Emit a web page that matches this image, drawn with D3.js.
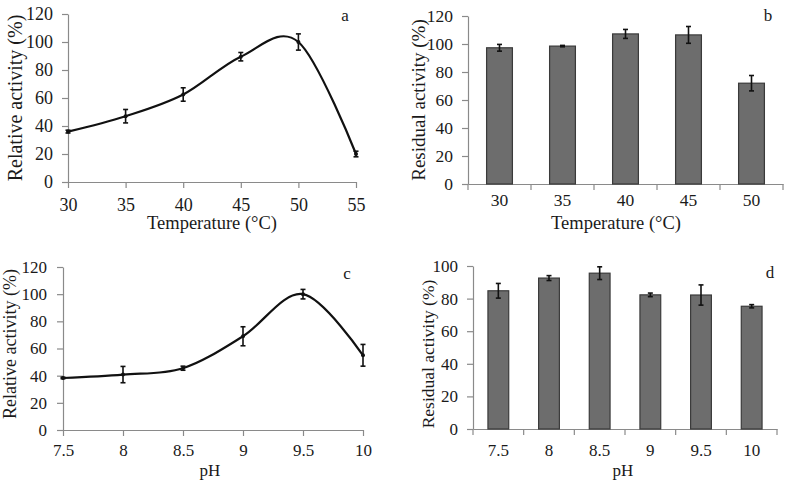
<!DOCTYPE html>
<html><head><meta charset="utf-8">
<script src="https://cdn.jsdelivr.net/npm/d3@7"></script>
<style>body{margin:0;background:#fff}svg{display:block}</style>
</head><body>
<svg id="c" width="787" height="480"></svg>
<script>
// Panel a: temperature vs relative activity
const tempA = [30, 35, 40, 45, 50, 55];
const relActA = [36, 47, 62.5, 89.5, 100, 20];
const relErrA = [1, 4.8, 4.8, 3, 5.8, 2];
// Panel b: temperature stability
const tempB = ["30", "35", "40", "45", "50"];
const resActB = [97.3, 98.5, 107.2, 106.5, 72];
const resErrB = [2.4, 0.5, 3.2, 6, 5.5];
// Panel c: pH vs relative activity
const phC = [7.5, 8, 8.5, 9, 9.5, 10];
const relActC = [38.3, 40.8, 45.5, 69, 100, 55];
const relErrC = [0.5, 6, 1.5, 7, 3.5, 8];
// Panel d: pH stability
const phD = ["7.5", "8", "8.5", "9", "9.5", "10"];
const resActD = [84.8, 92.6, 95.6, 82.3, 82.2, 75.3];
const resErrD = [4.5, 1.5, 3.9, 1.1, 6.2, 1];
const yTicks120 = [0, 20, 40, 60, 80, 100, 120];
const yTicks100 = [0, 20, 40, 60, 80, 100];

const svg = d3.select("#c");
const FONT = "'Liberation Serif','Times New Roman',serif";
const AX = "#8a8a8a", TXT = "#1a1a1a";

function styleAxis(g, fs) {
  g.attr("font-family", null).attr("font-size", null);
  g.select(".domain").attr("stroke", AX).attr("stroke-width", 1.2);
  g.selectAll(".tick line").attr("stroke", AX).attr("stroke-width", 1.2);
  g.selectAll(".tick text").attr("fill", TXT).style("font-family", FONT).style("font-size", fs + "px");
}

function yAxis(g, y, ticks, xPos, fs, pad) {
  const a = g.append("g").attr("transform", `translate(${xPos},0)`)
    .call(d3.axisLeft(y).tickValues(ticks).tickSize(6).tickPadding(pad).tickSizeOuter(0));
  styleAxis(a, fs);
}

function titles(g, o) {
  g.append("text").attr("x", o.xtX).attr("y", o.xtY).attr("text-anchor", "middle")
    .style("font-family", FONT).style("font-size", o.xtFs + "px").attr("fill", TXT).text(o.xt);
  g.append("text").attr("transform", `translate(${o.ytX},${o.ytY}) rotate(-90)`)
    .attr("dy", "0.35em").attr("text-anchor", "middle")
    .style("font-family", FONT).style("font-size", o.ytFs + "px").attr("fill", TXT).text(o.yt);
  g.append("text").attr("x", o.lx).attr("y", o.ly).attr("dy", "0.35em").attr("text-anchor", "middle")
    .style("font-family", FONT).style("font-size", "17px").attr("fill", TXT).text(o.letter);
}

function errorBars(g, xs, ys, errs, y, cap) {
  xs.forEach((x, i) => {
    const t = y(ys[i] + errs[i]), b = y(ys[i] - errs[i]);
    g.append("line").attr("x1", x).attr("x2", x).attr("y1", t).attr("y2", b).attr("stroke", "#111").attr("stroke-width", 1.6);
    g.append("line").attr("x1", x - cap).attr("x2", x + cap).attr("y1", t).attr("y2", t).attr("stroke", "#111").attr("stroke-width", 1.6);
    g.append("line").attr("x1", x - cap).attr("x2", x + cap).attr("y1", b).attr("y2", b).attr("stroke", "#111").attr("stroke-width", 1.6);
  });
}

function linePanel(o) {
  const g = svg.append("g");
  const x = d3.scaleLinear().domain([o.xs[0], o.xs[o.xs.length - 1]]).range([o.x0, o.x1]);
  const y = d3.scaleLinear().domain([0, 120]).range([o.y0, o.yTop]);
  const xa = g.append("g").attr("transform", `translate(0,${o.y0})`)
    .call(d3.axisBottom(x).tickValues(o.xs).tickFormat(d => String(d)).tickSize(6).tickPadding(o.xPad).tickSizeOuter(0));
  styleAxis(xa, o.tfs);
  yAxis(g, y, yTicks120, o.x0, o.tfs, o.yPad);
  const pts = o.xs.map((d, i) => [x(d), y(o.vals[i])]);
  g.append("path").attr("d", d3.line().curve(d3.curveCatmullRom.alpha(0))(pts))
    .attr("fill", "none").attr("stroke", "#111").attr("stroke-width", 2.2);
  g.selectAll("circle.m").data(pts).join("circle").attr("cx", d => d[0]).attr("cy", d => d[1]).attr("r", 2).attr("fill", "#111");
  errorBars(g, pts.map(p => p[0]), o.vals, o.errs, y, 2.5);
  titles(g, o);
}

function barPanel(o) {
  const g = svg.append("g");
  const x = d3.scaleBand().domain(o.cats).range([o.x0, o.x1]).paddingInner(0.59).paddingOuter(0.295);
  const y = d3.scaleLinear().domain([0, o.ymax]).range([o.y0, o.yTop]);
  const xa = g.append("g").attr("transform", `translate(0,${o.y0})`)
    .call(d3.axisBottom(x).tickSize(0).tickPadding(o.xPad).tickSizeOuter(0));
  styleAxis(xa, o.tfs);
  // tick marks at category boundaries
  const bounds = d3.range(o.cats.length + 1).map(i => o.x0 + i * x.step());
  g.selectAll("line.bt").data(bounds).join("line")
    .attr("x1", d => d).attr("x2", d => d).attr("y1", o.y0).attr("y2", o.y0 + 6)
    .attr("stroke", AX).attr("stroke-width", 1.2);
  yAxis(g, y, o.ticks, o.x0, o.tfs, o.yPad);
  g.selectAll("rect.b").data(o.vals).join("rect")
    .attr("x", (d, i) => x(o.cats[i])).attr("width", x.bandwidth())
    .attr("y", d => y(d)).attr("height", d => o.y0 - y(d))
    .attr("fill", "#6d6d6d").attr("stroke", "#3a3a3a").attr("stroke-width", 1.2);
  errorBars(g, o.cats.map(c => x(c) + x.bandwidth() / 2), o.vals, o.errs, y, 2.5);
  titles(g, o);
}

linePanel({xs: tempA, vals: relActA, errs: relErrA, x0: 68, x1: 356, y0: 182, yTop: 14,
  tfs: 18, xPad: 10, yPad: 9,
  xt: "Temperature (°C)", xtX: 212, xtY: 229, xtFs: 18.5,
  yt: "Relative activity (%)", ytX: 15, ytY: 98, ytFs: 20,
  letter: "a", lx: 345, ly: 15});

barPanel({cats: tempB, vals: resActB, errs: resErrB, x0: 468, x1: 783, y0: 184, yTop: 16, ymax: 120, ticks: yTicks120,
  tfs: 17.5, xPad: 10, yPad: 9,
  xt: "Temperature (°C)", xtX: 616, xtY: 229, xtFs: 18.5,
  yt: "Residual activity (%)", ytX: 418, ytY: 100, ytFs: 19,
  letter: "b", lx: 768, ly: 15});

linePanel({xs: phC, vals: relActC, errs: relErrC, x0: 63, x1: 363, y0: 430, yTop: 267,
  tfs: 17, xPad: 8, yPad: 10,
  xt: "pH", xtX: 210, xtY: 476, xtFs: 17,
  yt: "Relative activity (%)", ytX: 10, ytY: 344, ytFs: 18,
  letter: "c", lx: 347, ly: 273});

barPanel({cats: phD, vals: resActD, errs: resErrD, x0: 473, x1: 777, y0: 429, yTop: 266, ymax: 100, ticks: yTicks100,
  tfs: 17, xPad: 15, yPad: 9,
  xt: "pH", xtX: 623, xtY: 476, xtFs: 17,
  yt: "Residual activity (%)", ytX: 428, ytY: 354, ytFs: 17.5,
  letter: "d", lx: 770, ly: 272});
</script>
</body></html>
